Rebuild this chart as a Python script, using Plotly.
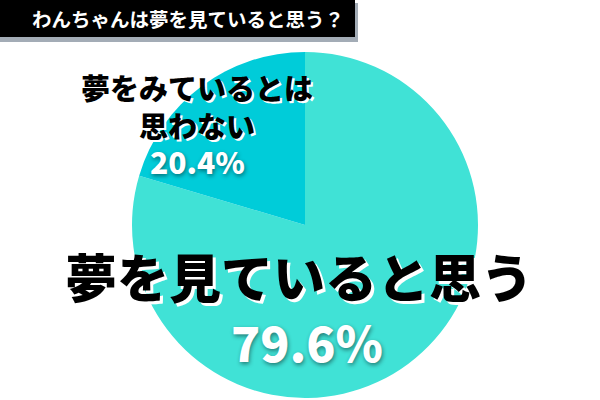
import plotly.graph_objects as go

title_text = "わんちゃんは夢を見ていると思う？"
# order: large slice first, so that (clockwise from 12 o'clock) the small slice ends up top-left
labels = ["夢を見ていると思う", "夢をみているとは<br>思わない"]
values = [79.6, 20.4]
colors = ["#40E2D6", "#00CCD9"]

W, H = 600, 400
FONT = "Noto Sans CJK JP"

fig = go.Figure()
fig.add_trace(go.Pie(
    labels=labels,
    values=values,
    sort=False,
    direction="clockwise",
    rotation=0,
    marker=dict(colors=colors, line=dict(width=0)),
    textinfo="none",
    hoverinfo="none",
    showlegend=False,
    domain=dict(x=[132 / W, 478 / W], y=[2 / H, 348 / H]),
))

def px(x, y):
    return x / W, 1 - y / H

dark_shadow = "2px 2px 0px #ffffff"
light_shadow = "1px 2px 4px rgba(0,0,0,0.45)"

def note(xp, yp, text, size, color, weight, shadow="none"):
    x, y = px(xp, yp)
    fig.add_annotation(x=x, y=y, xref="paper", yref="paper", showarrow=False,
                       xanchor="center", yanchor="middle", align="center",
                       text=text,
                       font=dict(family=FONT, size=size, color=color, weight=weight, shadow=shadow))

# small slice label
note(197, 106, labels[1], 29, "#000000", 900, dark_shadow)
note(197, 161, f"{values[1]:.1f}%", 30, "#ffffff", 900, light_shadow)

# large slice label
note(299, 275, labels[0], 52, "#000000", 900, "3px 3px 0px #ffffff")
note(307, 341, f"{values[0]:.1f}%", 48, "#ffffff", 900, light_shadow)

# title box with shadow
fig.add_shape(type="rect", xref="paper", yref="paper",
              x0=0, x1=358 / W, y0=1 - 42 / H, y1=1 - 3 / H,
              fillcolor="#a3acb6", line=dict(width=0), layer="below")
fig.add_shape(type="rect", xref="paper", yref="paper",
              x0=0, x1=355 / W, y0=1 - 37 / H, y1=1,
              fillcolor="#000000", line=dict(width=0), layer="below")
note(188, 19, title_text, 19.5, "#ffffff", 700)

fig.update_layout(
    width=W, height=H,
    margin=dict(l=0, r=0, t=0, b=0),
    paper_bgcolor="#ffffff",
    plot_bgcolor="#ffffff",
)

fig.write_html("out.html", config={"displayModeBar": False},
               post_script="document.body.style.margin='0px';")
